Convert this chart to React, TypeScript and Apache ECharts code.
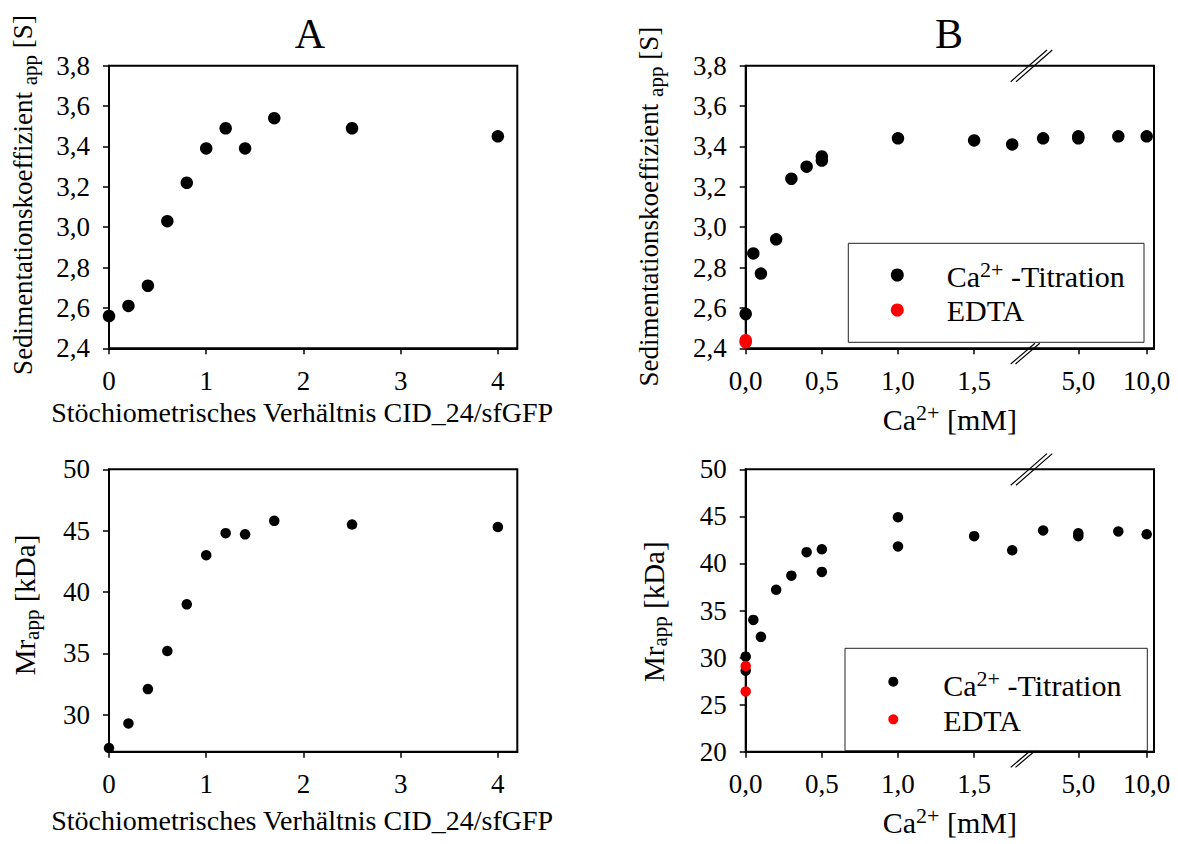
import React, { useEffect, useRef } from "react";
import * as echarts from "echarts";

// ---------- data ----------
// Panel A: stoichiometric ratio CID_24/sfGFP
const ratioA = [0, 0.2, 0.4, 0.6, 0.8, 1.0, 1.2, 1.4, 1.7, 2.5, 4.0];
const sedA = [2.56, 2.61, 2.71, 3.03, 3.22, 3.39, 3.49, 3.39, 3.54, 3.49, 3.45];
const mrA = [27.3, 29.3, 32.1, 35.2, 39.0, 43.0, 44.8, 44.7, 45.8, 45.5, 45.3];

// Panel B top: Ca2+ titration, sedimentation coefficient
const caSedX = [0, 0.05, 0.1, 0.2, 0.3, 0.4, 0.5, 0.5, 1.0, 1.5, 1.75, 3.5, 5.0, 5.0, 7.5, 10.0];
const caSedY = [2.57, 2.87, 2.77, 2.94, 3.24, 3.3, 3.33, 3.35, 3.44, 3.43, 3.41, 3.44, 3.44, 3.45, 3.45, 3.45];
const edtaSedX = [0, 0];
const edtaSedY = [2.43, 2.44];

// Panel B bottom: Ca2+ titration, Mr app
const caMrX = [0, 0, 0.05, 0.1, 0.2, 0.3, 0.4, 0.5, 0.5, 1.0, 1.0, 1.5, 1.75, 3.5, 5.0, 5.0, 7.5, 10.0];
const caMrY = [30.1, 28.6, 34.0, 32.2, 37.2, 38.7, 41.2, 41.5, 39.1, 44.9, 41.8, 42.9, 41.4, 43.5, 43.2, 42.9, 43.4, 43.1];
const edtaMrX = [0, 0];
const edtaMrY = [29.1, 26.4];

// ticks
const ratioTicks = [0, 1, 2, 3, 4];
const sedTicks = [2.4, 2.6, 2.8, 3.0, 3.2, 3.4, 3.6, 3.8];
const mrTicksA = [30, 35, 40, 45, 50];
const mrTicksB = [20, 25, 30, 35, 40, 45, 50];
const caTicks = [0, 0.5, 1.0, 1.5, 5.0, 10.0];
const caTickLabels = ["0,0", "0,5", "1,0", "1,5", "5,0", "10,0"];

// broken Ca2+ axis: linear segment up to 2 mM, then logarithmic segment
const BREAK_AT = 2;
const SEG2_AT5 = 2.184;
const SEG2_LOGK = 1.4916;
const CA_AXIS_MAX = 2.681;
const caToAxis = (x: number) => (x <= BREAK_AT ? x : SEG2_AT5 + SEG2_LOGK * Math.log10(x / 5));

const FONT = '"Liberation Serif", "Times New Roman", Times, serif';

const GRIDS = [
  { left: 109, top: 65.7, width: 408.3, height: 282.6 },
  { left: 109, top: 469.3, width: 408.3, height: 282.4 },
  { left: 745.7, top: 65.7, width: 408.3, height: 282.6 },
  { left: 745.7, top: 469.3, width: 408.3, height: 282.4 },
];

const comma1 = (v: number) => v.toFixed(1).replace(".", ",");

function axisBase(gridIndex: number, ticks: number[], formatter: (v: number) => string) {
  return {
    gridIndex,
    type: "value",
    axisLine: { show: true, onZero: false, lineStyle: { color: "#000", width: 2 } },
    axisTick: { show: true, inside: false, length: 6, customValues: ticks, lineStyle: { color: "#000", width: 1.5 } },
    splitLine: { show: false },
    axisLabel: {
      color: "#000",
      fontFamily: FONT,
      fontSize: 27,
      margin: 19,
      customValues: ticks,
      showMinLabel: true,
      showMaxLabel: true,
      formatter,
    },
  };
}

const richSup = {
  n: { fontFamily: FONT, fontSize: 30, color: "#000", fill: "#000", lineHeight: 36 },
  s: { fontFamily: FONT, fontSize: 22, color: "#000", fill: "#000", lineHeight: 22, verticalAlign: "top" },
};

function yNameGraphic(x: number, y: number, main: string, sub: string, tail: string, fs: number) {
  return {
    type: "text",
    x,
    y,
    rotation: Math.PI / 2,
    style: {
      text: `{a|${main}}{b|${sub}}{a|${tail}}`,
      align: "center",
      verticalAlign: "middle",
      fill: "#000",
      rich: {
        a: { fontFamily: FONT, fontSize: fs, fill: "#000", lineHeight: 34 },
        b: { fontFamily: FONT, fontSize: 21, fill: "#000", lineHeight: 21, verticalAlign: "bottom" },
      },
    },
  };
}

function breakMarks(top: number, bottom: number) {
  const st = { stroke: "#000", lineWidth: 1.2 };
  return [
    { type: "line", shape: { x1: 1010.7, y1: top + 16, x2: 1047, y2: top - 15.7 }, style: st },
    { type: "line", shape: { x1: 1016, y1: top + 16, x2: 1052.3, y2: top - 15.7 }, style: st },
    { type: "line", shape: { x1: 1010.7, y1: bottom + 15.7, x2: 1035, y2: bottom - 5 }, style: st },
    { type: "line", shape: { x1: 1015.5, y1: bottom + 15.7, x2: 1039.8, y2: bottom - 5 }, style: st },
  ];
}

function legendGraphic(
  box: { x: number; y: number; w: number; h: number },
  mx: number,
  my1: number,
  my2: number,
  r: number,
  tx: number,
  ty1: number,
  ty2: number
) {
  return [
    { type: "rect", shape: { x: box.x, y: box.y, width: box.w, height: box.h }, style: { fill: "#fff", stroke: "#222", lineWidth: 1 } },
    { type: "circle", shape: { cx: mx, cy: my1, r }, style: { fill: "#000" } },
    { type: "circle", shape: { cx: mx, cy: my2, r }, style: { fill: "#ff0000" } },
    {
      type: "text",
      x: tx,
      y: ty1,
      style: { text: "{n|Ca}{s|2+}{n| -Titration}", rich: richSup, align: "left", verticalAlign: "middle", fill: "#000" },
    },
    {
      type: "text",
      x: tx,
      y: ty2,
      style: { text: "EDTA", fontFamily: FONT, fontSize: 30, fill: "#000", align: "left", verticalAlign: "middle" },
    },
  ];
}

export default function App() {
  const ref = useRef<HTMLDivElement>(null);

  useEffect(() => {
    if (!ref.current) return;
    const chart = echarts.init(ref.current, undefined, { renderer: "svg" });

    const caFormatter = (v: number) => {
      let best = 0;
      let bd = Infinity;
      caTicks.forEach((t, i) => {
        const d = Math.abs(caToAxis(t) - v);
        if (d < bd) {
          bd = d;
          best = i;
        }
      });
      return caTickLabels[best];
    };

    const nameStyleA = { fontFamily: FONT, fontSize: 28, color: "#000", lineHeight: 28, padding: [0, 22, 0, 0] };

    const xAxes = [
      {
        ...axisBase(0, ratioTicks, (v: number) => String(v)),
        min: 0,
        max: 4.2,
        name: "Stöchiometrisches Verhältnis CID_24/sfGFP",
        nameLocation: "middle",
        nameGap: 50,
        nameTextStyle: nameStyleA,
      },
      {
        ...axisBase(1, ratioTicks, (v: number) => String(v)),
        min: 0,
        max: 4.2,
        name: "Stöchiometrisches Verhältnis CID_24/sfGFP",
        nameLocation: "middle",
        nameGap: 55,
        nameTextStyle: nameStyleA,
      },
      {
        ...axisBase(2, caTicks.map(caToAxis), caFormatter),
        min: 0,
        max: CA_AXIS_MAX,
        name: "{n|Ca}{s|2+}{n| [mM]}",
        nameLocation: "middle",
        nameGap: 53,
        nameTextStyle: { rich: richSup },
      },
      {
        ...axisBase(3, caTicks.map(caToAxis), caFormatter),
        min: 0,
        max: CA_AXIS_MAX,
        name: "{n|Ca}{s|2+}{n| [mM]}",
        nameLocation: "middle",
        nameGap: 53,
        nameTextStyle: { rich: richSup },
      },
    ];

    const yAxes = [
      { ...axisBase(0, sedTicks, comma1), min: 2.4, max: 3.8 },
      { ...axisBase(1, mrTicksA, (v: number) => String(v)), min: 27, max: 50 },
      { ...axisBase(2, sedTicks, comma1), min: 2.4, max: 3.8 },
      { ...axisBase(3, mrTicksB, (v: number) => String(v)), min: 20, max: 50 },
    ];

    const sc = (name: string, idx: number, xs: number[], ys: number[], size: number, color: string, mapX?: (x: number) => number) => ({
      type: "scatter",
      name,
      xAxisIndex: idx,
      yAxisIndex: idx,
      clip: false,
      symbol: "circle",
      symbolSize: size,
      itemStyle: { color, opacity: 1 },
      data: xs.map((x, i) => [mapX ? mapX(x) : x, ys[i]]),
    });

    const option = {
      animation: false,
      backgroundColor: "#fff",
      title: [
        { text: "A", left: 310, top: 13, textAlign: "center", padding: 0, textStyle: { fontFamily: FONT, fontSize: 42, fontWeight: "normal", color: "#000", lineHeight: 42 } },
        { text: "B", left: 949, top: 13, textAlign: "center", padding: 0, textStyle: { fontFamily: FONT, fontSize: 42, fontWeight: "normal", color: "#000", lineHeight: 42 } },
      ],
      grid: GRIDS.map((g) => ({ ...g, show: true, borderColor: "#000", borderWidth: 2, backgroundColor: "transparent" })),
      xAxis: xAxes,
      yAxis: yAxes,
      series: [
        sc("A Sedimentationskoeffizient", 0, ratioA, sedA, 12.5, "#000"),
        sc("A Mr", 1, ratioA, mrA, 10.5, "#000"),
        sc("Ca2+ -Titration", 2, caSedX, caSedY, 12.5, "#000", caToAxis),
        sc("EDTA", 2, edtaSedX, edtaSedY, 12.5, "#ff0000", caToAxis),
        sc("Ca2+ -Titration ", 3, caMrX, caMrY, 10.5, "#000", caToAxis),
        sc("EDTA ", 3, edtaMrX, edtaMrY, 10.5, "#ff0000", caToAxis),
      ],
      graphic: [
        yNameGraphic(23, 195, "Sedimentationskoeffizient ", "app", " [S]", 27),
        yNameGraphic(649, 206.7, "Sedimentationskoeffizient ", "app", " [S]", 27),
        yNameGraphic(25, 605, "Mr", "app", " [kDa]", 29),
        yNameGraphic(653.5, 611.7, "Mr", "app", " [kDa]", 29),
        ...breakMarks(65.7, 348.3),
        ...breakMarks(469.3, 751.7),
        ...legendGraphic({ x: 848.3, y: 243.3, w: 295.7, h: 99 }, 897.3, 275, 310, 6.5, 946.7, 276.5, 310.5),
        ...legendGraphic({ x: 845, y: 648.3, w: 302.3, h: 102.4 }, 893.3, 681.7, 719.3, 5, 943.3, 685.5, 720.5),
      ],
    };

    chart.setOption(option as any);
    return () => chart.dispose();
  }, []);

  return (
    <div
      ref={ref}
      style={{ position: "fixed", left: 0, top: 0, width: 1178, height: 844, background: "#fff" }}
    />
  );
}
